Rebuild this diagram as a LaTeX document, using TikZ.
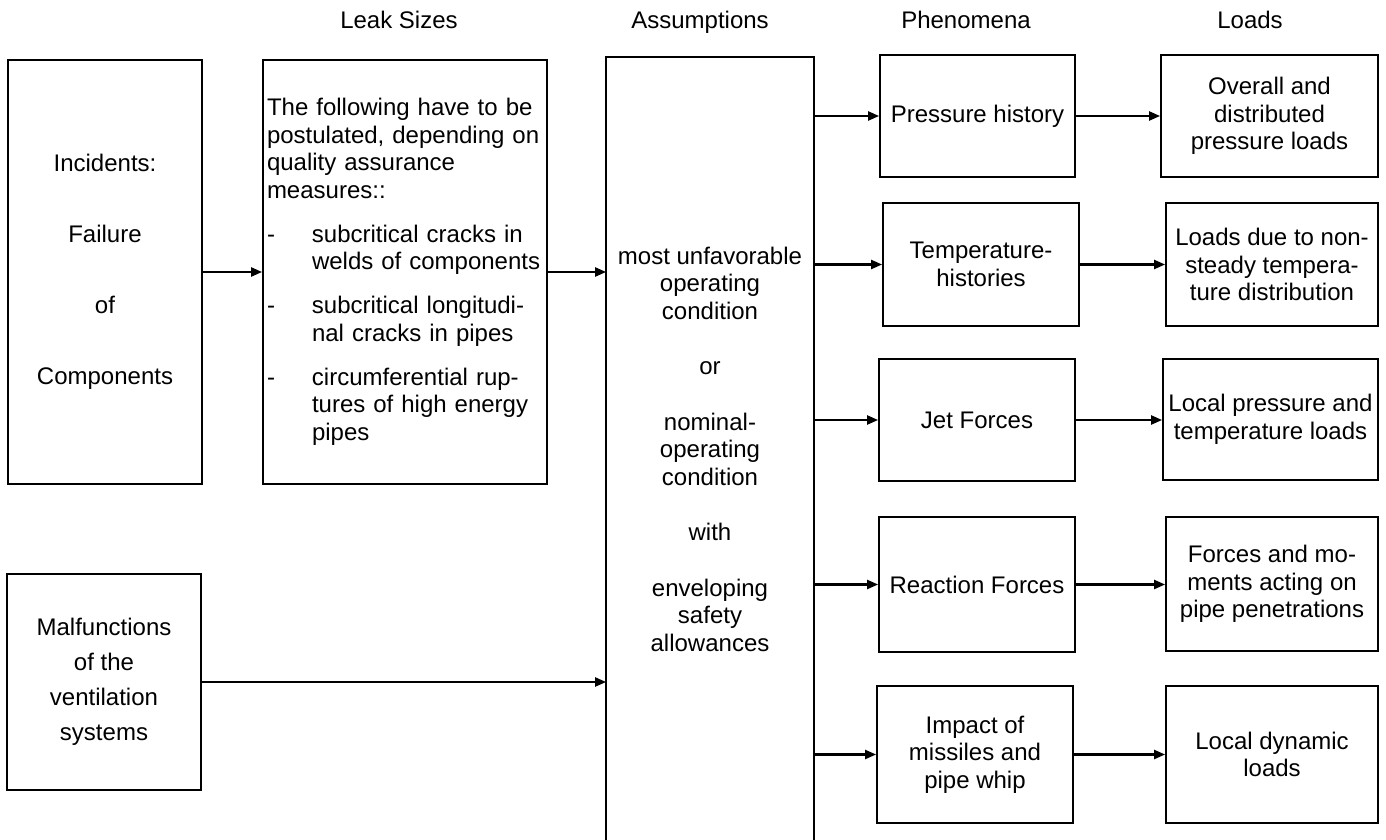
\documentclass[tikz,border=0pt]{standalone}
\usepackage{fontspec}
\setmainfont{Liberation Sans}
\usetikzlibrary{arrows.meta}
\newcommand{\fs}{\fontsize{24}{27.5}\selectfont}
\begin{document}
\begin{tikzpicture}[x=1pt,y=-1pt,
  box/.style={draw, line width=1.8pt, inner sep=0pt, font=\fs, align=center},
  hdr/.style={font=\fs, inner sep=0pt, anchor=base},
  boxline/.style={line width=1.8pt},
  arr/.style={line width=2.2pt, -{Triangle[length=11pt,width=9pt]}}]
\useasboundingbox (0,0) rectangle (1386,840);
\fill[white] (0,0) rectangle (1386,840);
% headers
\node[hdr] (hleak) at (399,28.5) {Leak Sizes};
\node[hdr] (hass) at (700,28.5) {Assumptions};
\node[hdr] (hphen) at (966,28.5) {Phenomena};
\node[hdr] (hload) at (1250,28.5) {Loads};
% left column
\node[box, minimum width=194pt, minimum height=424pt] (incid) at (105,272)
  {Incidents:\\[43.5pt]Failure\\[43.5pt]of\\[43.5pt]Components};
\node[box, minimum width=194pt, minimum height=216pt] (malf) at (104,682)
  {Malfunctions\\[7.5pt]of the\\[7.5pt]ventilation\\[7.5pt]systems};
% leak sizes
\node[box, minimum width=284pt, minimum height=424pt] (leak) at (405,272) {};
\node[font=\fs, align=left, text width=276pt, inner sep=0pt] (leaktxt) at (leak.center)
  {The following have to be\\
   postulated, depending on\\
   quality assurance\\
   measures::\\[16.5pt]
   \makebox[45pt][l]{-}subcritical cracks in\\
   \hspace*{45pt}welds of components\\[16.5pt]
   \makebox[45pt][l]{-}subcritical longitudi-\\
   \hspace*{45pt}nal cracks in pipes\\[16.5pt]
   \makebox[45pt][l]{-}circumferential rup-\\
   \hspace*{45pt}tures of high energy\\
   \hspace*{45pt}pipes};
% assumptions (open at the bottom)
\node[font=\fs, align=center, inner sep=0pt, line width=1.8pt, minimum width=206pt, minimum height=782pt] (assum) at (710,449)
  {most unfavorable\\operating\\condition\\[28pt]or\\[28pt]nominal-\\operating\\condition\\[28pt]with\\[28pt]enveloping\\safety\\allowances};
\draw[boxline] (assum.south west) -- (assum.north west) -- (assum.north east) -- (assum.south east);
% phenomena
\node[box, minimum width=195pt, minimum height=122pt] (press) at (977.5,116) {Pressure history};
\node[box, minimum width=196pt, minimum height=123pt] (temp) at (981,264.5) {Temperature-\\histories};
\node[box, minimum width=196pt, minimum height=122pt] (jet) at (977,420) {Jet Forces};
\node[box, minimum width=196pt, minimum height=135pt] (react) at (977,584.5) {Reaction Forces};
\node[box, minimum width=196pt, minimum height=137pt] (impact) at (975,754.5) {Impact of\\missiles and\\pipe whip};
% loads
\node[box, minimum width=217pt, minimum height=122pt] (overall) at (1269.5,116) {Overall and\\distributed\\pressure loads};
\node[box, minimum width=212pt, minimum height=123pt] (ldue) at (1272,264.5) {Loads due to non-\\steady tempera-\\ture distribution};
\node[box, minimum width=215pt, minimum height=121pt] (lpress) at (1270.5,419.5) {Local pressure and\\temperature loads};
\node[box, minimum width=212pt, minimum height=134pt] (forces) at (1272,584) {Forces and mo-\\ments acting on\\pipe penetrations};
\node[box, minimum width=212pt, minimum height=137pt] (ldyn) at (1272,754.5) {Local dynamic\\loads};
% connectors
\draw[arr] (incid.east) -- (incid.east -| leak.west);
\draw[arr] (leak.east) -- (leak.east -| assum.west);
\draw[arr] (malf.east) -- (malf.east -| assum.west);
\draw[arr] (press.west -| assum.east) -- (press.west);
\draw[arr] (temp.west -| assum.east) -- (temp.west);
\draw[arr] (jet.west -| assum.east) -- (jet.west);
\draw[arr] (react.west -| assum.east) -- (react.west);
\draw[arr] (impact.west -| assum.east) -- (impact.west);
\draw[arr] (press.east) -- (press.east -| overall.west);
\draw[arr] (temp.east) -- (temp.east -| ldue.west);
\draw[arr] (jet.east) -- (jet.east -| lpress.west);
\draw[arr] (react.east) -- (react.east -| forces.west);
\draw[arr] (impact.east) -- (impact.east -| ldyn.west);
\end{tikzpicture}
\end{document}
